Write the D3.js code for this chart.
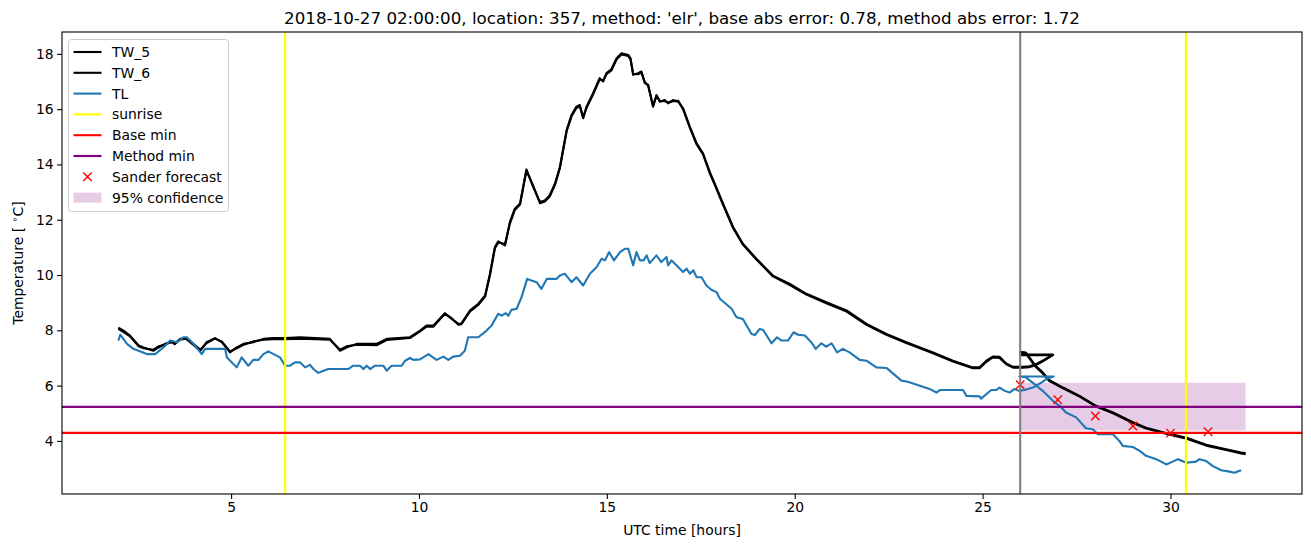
<!DOCTYPE html>
<html><head><meta charset="utf-8">
<script src="https://cdn.jsdelivr.net/npm/d3@7"></script>
<style>body{margin:0;background:#fff;} text{font-family:"DejaVu Sans",sans-serif;fill:#000;}</style>
</head><body><svg id="c" width="1311" height="547"></svg>
<script>
const titleText = "2018-10-27 02:00:00, location: 357, method: 'elr', base abs error: 0.78, method abs error: 1.72";
const twHours = [
 2.0, 2.18, 2.31, 2.54, 2.67, 2.93, 3.07, 3.24, 3.42, 3.5,
 3.64, 3.78, 3.91, 4.18, 4.35, 4.57, 4.75, 4.97, 5.15, 5.33,
 5.59, 5.86, 6.13, 6.44, 6.84, 7.63, 7.9, 8.07, 8.34, 8.87,
 9.14, 9.76, 10.03, 10.2, 10.38, 10.69, 10.87, 11.05, 11.13, 11.36,
 11.58, 11.76, 11.89, 12.02, 12.11, 12.29, 12.42, 12.55, 12.69, 12.86,
 13.04, 13.22, 13.35, 13.48, 13.62, 13.75, 13.93, 14.06, 14.19, 14.28,
 14.37, 14.46, 14.63, 14.81, 14.9, 14.99, 15.12, 15.26, 15.39, 15.57,
 15.63, 15.7, 15.83, 15.92, 16.01, 16.1, 16.23, 16.32, 16.41, 16.54,
 16.63, 16.76, 16.9, 17.03, 17.21, 17.39, 17.56, 17.74, 17.87, 18.09,
 18.36, 18.62, 18.98, 19.42, 19.87, 20.31, 20.84, 21.38, 21.91, 22.44,
 22.97, 23.68, 24.21, 24.74, 24.92, 25.1, 25.27, 25.45, 25.63, 25.81,
 25.96, 26.07, 26.25, 26.43, 26.6, 26.87, 26.05, 26.0, 26.15, 26.28,
 26.41, 26.6, 26.78, 27.14, 27.58, 28.02, 28.47, 29.0, 29.35, 29.93,
 30.41, 30.95, 31.48, 31.88, 32.0];
const tw5 = [
 8.1, 7.95, 7.81, 7.45, 7.38, 7.26, 7.38, 7.51, 7.57, 7.5,
 7.69, 7.72, 7.57, 7.26, 7.57, 7.72, 7.57, 7.2, 7.38, 7.51,
 7.57, 7.69, 7.72, 7.72, 7.75, 7.69, 7.26, 7.38, 7.51, 7.51,
 7.69, 7.75, 7.99, 8.17, 8.17, 8.62, 8.41, 8.23, 8.25, 8.72,
 8.96, 9.26, 10.05, 11.01, 11.22, 11.07, 11.92, 12.4, 12.59, 13.82,
 13.19, 12.64, 12.7, 12.89, 13.31, 13.91, 15.24, 15.79, 16.09, 16.15,
 15.67, 16.09, 16.57, 17.12, 17.0, 17.3, 17.44, 17.84, 18.02, 17.96,
 17.84, 17.24, 17.3, 17.36, 16.94, 16.88, 16.09, 16.51, 16.27, 16.33,
 16.21, 16.33, 16.27, 16.03, 15.36, 14.76, 14.4, 13.72, 13.31, 12.59,
 11.74, 11.13, 10.59, 9.98, 9.68, 9.32, 9.02, 8.72, 8.23, 7.87,
 7.57, 7.2, 6.9, 6.66, 6.66, 6.9, 7.05, 7.04, 6.8, 6.68,
 6.68, 6.68, 6.7, 6.78, 6.9, 7.12, 7.12, 7.22, 7.2, 6.96,
 6.72, 6.48, 6.2, 5.93, 5.63, 5.27, 5.03, 4.68, 4.48, 4.27,
 4.12, 3.86, 3.7, 3.58, 3.56];
const tw6 = [
 8.05, 7.9, 7.78, 7.42, 7.35, 7.3, 7.42, 7.48, 7.6, 7.53,
 7.66, 7.7, 7.6, 7.3, 7.54, 7.7, 7.6, 7.24, 7.35, 7.48,
 7.6, 7.66, 7.68, 7.68, 7.7, 7.66, 7.3, 7.42, 7.48, 7.46,
 7.65, 7.72, 7.96, 8.13, 8.13, 8.6, 8.44, 8.2, 8.22, 8.68,
 8.92, 9.22, 10.0, 10.96, 11.18, 11.12, 11.86, 12.35, 12.55, 13.78,
 13.22, 12.6, 12.66, 12.84, 13.26, 13.86, 15.2, 15.74, 16.04, 16.1,
 15.7, 16.05, 16.52, 17.08, 17.03, 17.26, 17.4, 17.8, 17.98, 17.92,
 17.8, 17.28, 17.26, 17.32, 16.98, 16.84, 16.12, 16.47, 16.3, 16.29,
 16.24, 16.29, 16.3, 15.99, 15.32, 14.72, 14.36, 13.68, 13.27, 12.55,
 11.7, 11.1, 10.56, 9.95, 9.64, 9.29, 8.98, 8.68, 8.2, 7.84,
 7.54, 7.17, 6.87, 6.63, 6.63, 6.86, 7.02, 7.0, 6.77, 6.65,
 6.65, 6.65, 6.67, 6.75, 6.88, 7.1, 7.1, 7.18, 7.16, 6.92,
 6.68, 6.44, 6.16, 5.9, 5.6, 5.24, 5.0, 4.65, 4.45, 4.24,
 4.09, 3.83, 3.67, 3.55, 3.52];
const tlHours = [
 2.0, 2.05, 2.23, 2.4, 2.76, 2.98, 3.2, 3.38, 3.56, 3.73,
 3.82, 4.0, 4.22, 4.31, 4.84, 4.89, 5.15, 5.28, 5.46, 5.59,
 5.73, 5.86, 5.99, 6.13, 6.3, 6.44, 6.57, 6.7, 6.84, 6.97,
 7.1, 7.19, 7.32, 7.46, 7.59, 7.72, 8.12, 8.25, 8.43, 8.52,
 8.61, 8.7, 8.83, 9.05, 9.14, 9.27, 9.54, 9.63, 9.76, 9.85,
 10.03, 10.25, 10.47, 10.65, 10.78, 10.91, 11.09, 11.22, 11.31, 11.58,
 11.8, 11.93, 12.11, 12.2, 12.31, 12.38, 12.46, 12.6, 12.73, 12.88,
 13.13, 13.26, 13.4, 13.66, 13.75, 13.88, 14.06, 14.19, 14.37, 14.55,
 14.73, 14.86, 14.95, 15.06, 15.19, 15.35, 15.48, 15.57, 15.7, 15.79,
 15.88, 15.98, 16.06, 16.14, 16.32, 16.45, 16.59, 16.63, 16.72, 16.85,
 17.03, 17.12, 17.21, 17.3, 17.39, 17.52, 17.65, 17.78, 17.92, 18.01,
 18.32, 18.45, 18.62, 18.85, 18.94, 19.07, 19.16, 19.38, 19.53, 19.65,
 19.82, 19.97, 20.09, 20.27, 20.44, 20.56, 20.71, 20.84, 20.98, 21.13,
 21.28, 21.46, 21.73, 21.91, 22.17, 22.44, 22.84, 23.01, 23.19, 23.59,
 23.77, 23.86, 24.48, 24.57, 24.92, 24.96, 25.23, 25.37, 25.45, 25.59,
 25.72, 25.85, 25.97, 26.12, 26.34, 26.56, 26.74, 26.89, 25.98, 26.15,
 26.33, 26.6, 26.87, 27.05, 27.22, 27.49, 27.75, 27.93, 28.07, 28.47,
 28.64, 28.73, 29.0, 29.18, 29.35, 29.62, 29.89, 30.06, 30.2, 30.42,
 30.68, 30.77, 30.95, 31.13, 31.35, 31.57, 31.7, 31.88];
const tl = [
 7.63, 7.84, 7.51, 7.33, 7.14, 7.14, 7.38, 7.63, 7.57, 7.75,
 7.75, 7.51, 7.14, 7.33, 7.33, 7.02, 6.66, 7.02, 6.72, 6.93,
 6.93, 7.14, 7.24, 7.14, 7.02, 6.72, 6.72, 6.84, 6.84, 6.66,
 6.75, 6.6, 6.46, 6.54, 6.6, 6.6, 6.6, 6.72, 6.72, 6.6,
 6.72, 6.6, 6.72, 6.72, 6.54, 6.72, 6.72, 6.9, 7.0, 6.93,
 6.95, 7.14, 6.93, 7.05, 6.93, 7.05, 7.08, 7.26, 7.75, 7.75,
 7.99, 8.17, 8.6, 8.53, 8.62, 8.53, 8.74, 8.78, 9.2, 9.86,
 9.74, 9.5, 9.86, 9.86, 9.98, 10.05, 9.74, 9.92, 9.62, 10.05,
 10.29, 10.59, 10.53, 10.83, 10.53, 10.83, 10.95, 10.95, 10.35, 10.83,
 10.53, 10.53, 10.71, 10.43, 10.71, 10.47, 10.65, 10.35, 10.53, 10.35,
 10.11, 10.23, 10.05, 10.17, 9.92, 9.92, 9.62, 9.47, 9.38, 9.14,
 8.78, 8.47, 8.41, 7.87, 7.83, 8.05, 8.01, 7.53, 7.75, 7.63,
 7.63, 7.93, 7.84, 7.81, 7.57, 7.33, 7.53, 7.41, 7.53, 7.2,
 7.33, 7.2, 6.93, 6.9, 6.66, 6.64, 6.18, 6.14, 6.06, 5.88,
 5.75, 5.84, 5.84, 5.63, 5.61, 5.53, 5.84, 5.84, 5.93, 5.81,
 5.75, 5.88, 5.81, 5.84, 5.93, 6.11, 6.27, 6.33, 6.33, 6.3,
 6.11, 5.81, 5.45, 5.27, 5.03, 4.85, 4.46, 4.42, 4.24, 4.24,
 4.0, 3.82, 3.78, 3.64, 3.46, 3.34, 3.15, 3.25, 3.34, 3.21,
 3.25, 3.34, 3.27, 3.09, 2.94, 2.89, 2.85, 2.94];
const sunriseHours = [6.44, 30.41];
const baseMin = 4.29;
const methodMin = 5.23;
const forecastStart = 26;
const sanderHours = [26, 27, 28, 29, 30, 31];
const sanderValues = [6.03, 5.49, 4.9, 4.54, 4.28, 4.33];
const confHours = [26, 32];
const confLow = [4.38, 4.38];
const confHigh = [6.1, 6.1];
const xTicks = [5, 10, 15, 20, 25, 30];
const yTicks = [4, 6, 8, 10, 12, 14, 16, 18];
const legendLabels = ["TW_5", "TW_6", "TL", "sunrise", "Base min", "Method min", "Sander forecast", "95% confidence"];

const W = 1311, H = 547;
const m = {l: 62, r: 1302, t: 32, b: 494};
const svg = d3.select("#c");
const x = d3.scaleLinear().domain([0.5, 33.5]).range([m.l, m.r]);
const y = d3.scaleLinear().domain([2.08, 18.79]).range([m.b, m.t]);

svg.append("defs").append("clipPath").attr("id", "clip")
  .append("rect").attr("x", m.l).attr("y", m.t).attr("width", m.r - m.l).attr("height", m.b - m.t);
const g = svg.append("g").attr("clip-path", "url(#clip)");

// confidence band
const conf = confHours.map((h, i) => ({h, lo: confLow[i], hi: confHigh[i]}));
g.append("path").datum(conf)
  .attr("d", d3.area().x(d => x(d.h)).y0(d => y(d.lo)).y1(d => y(d.hi)))
  .attr("fill", "purple").attr("fill-opacity", 0.2);

const line = d3.line().x(d => x(d[0])).y(d => y(d[1]));
g.append("path").datum(d3.zip(twHours, tw5)).attr("d", line)
  .attr("fill", "none").attr("stroke", "#000").attr("stroke-width", 2.1).attr("stroke-linejoin", "round");
g.append("path").datum(d3.zip(twHours, tw6)).attr("d", line)
  .attr("fill", "none").attr("stroke", "#000").attr("stroke-width", 2.1).attr("stroke-linejoin", "round");
g.append("path").datum(d3.zip(tlHours, tl)).attr("d", line)
  .attr("fill", "none").attr("stroke", "#1f77b4").attr("stroke-width", 2.1).attr("stroke-linejoin", "round");

g.selectAll("line.sun").data(sunriseHours).enter().append("line")
  .attr("x1", d => x(d)).attr("x2", d => x(d)).attr("y1", m.t).attr("y2", m.b)
  .attr("stroke", "yellow").attr("stroke-width", 2.1);
g.append("line").attr("x1", m.l).attr("x2", m.r).attr("y1", y(baseMin)).attr("y2", y(baseMin))
  .attr("stroke", "red").attr("stroke-width", 2.1);
g.append("line").attr("x1", m.l).attr("x2", m.r).attr("y1", y(methodMin)).attr("y2", y(methodMin))
  .attr("stroke", "purple").attr("stroke-width", 2.1);

const s = 4.2;
const sander = d3.zip(sanderHours, sanderValues);
g.selectAll("path.x").data(sander).enter().append("path")
  .attr("d", d => `M${x(d[0]) - s},${y(d[1]) - s}L${x(d[0]) + s},${y(d[1]) + s}M${x(d[0]) - s},${y(d[1]) + s}L${x(d[0]) + s},${y(d[1]) - s}`)
  .attr("stroke", "red").attr("stroke-width", 1.4).attr("fill", "none");

g.append("line").attr("x1", x(forecastStart)).attr("x2", x(forecastStart)).attr("y1", m.t).attr("y2", m.b)
  .attr("stroke", "gray").attr("stroke-width", 2.1);

// axes
const xAxis = svg.append("g").attr("transform", `translate(0,${m.b})`)
  .call(d3.axisBottom(x).tickValues(xTicks).tickSize(4.9).tickPadding(3.5).tickFormat(d3.format("d")));
const yAxis = svg.append("g").attr("transform", `translate(${m.l},0)`)
  .call(d3.axisLeft(y).tickValues(yTicks).tickSize(4.9).tickPadding(3.5).tickFormat(d3.format("d")));
[xAxis, yAxis].forEach(a => {
  a.select(".domain").remove();
  a.selectAll(".tick line").attr("stroke", "#000").attr("stroke-width", 1.1);
  a.selectAll(".tick text").attr("font-size", 13.9).attr("font-family", "DejaVu Sans").attr("fill", "#000");
});
svg.append("rect").attr("x", m.l).attr("y", m.t).attr("width", m.r - m.l).attr("height", m.b - m.t)
  .attr("fill", "none").attr("stroke", "#000").attr("stroke-width", 1.1);

svg.append("text").attr("x", (m.l + m.r) / 2).attr("y", 24).attr("text-anchor", "middle")
  .attr("font-size", 16.7).text(titleText);
svg.append("text").attr("x", (m.l + m.r) / 2).attr("y", 535).attr("text-anchor", "middle")
  .attr("font-size", 13.9).text("UTC time [hours]");
const yl = svg.append("text").attr("transform", `translate(23,${(m.t + m.b) / 2}) rotate(-90)`)
  .attr("text-anchor", "middle").attr("font-size", 13.9);
yl.append("tspan").text("Temperature [ ");
yl.append("tspan").attr("font-size", 9.7).attr("dy", -5).text("∘");
yl.append("tspan").attr("dy", 5).text("C]");

// legend
const lg = svg.append("g");
lg.append("rect").attr("x", 68.5).attr("y", 39.5).attr("width", 160).attr("height", 172)
  .attr("rx", 3).attr("fill", "#fff").attr("fill-opacity", 0.8).attr("stroke", "#ccc").attr("stroke-width", 1);
const rowY = i => 52 + i * 20.8;
const hx0 = 73.5, hx1 = 101.5, tx = 112;
const handles = [
  {type: "line", color: "#000"}, {type: "line", color: "#000"}, {type: "line", color: "#1f77b4"},
  {type: "line", color: "yellow"}, {type: "line", color: "red"}, {type: "line", color: "purple"},
  {type: "x", color: "red"}, {type: "patch", color: "purple"}];
handles.forEach((h, i) => {
  const yy = rowY(i);
  if (h.type === "line") {
    lg.append("line").attr("x1", hx0).attr("x2", hx1).attr("y1", yy).attr("y2", yy)
      .attr("stroke", h.color).attr("stroke-width", 2.1);
  } else if (h.type === "x") {
    const cx = (hx0 + hx1) / 2;
    lg.append("path").attr("d", `M${cx - s},${yy - s}L${cx + s},${yy + s}M${cx - s},${yy + s}L${cx + s},${yy - s}`)
      .attr("stroke", h.color).attr("stroke-width", 1.4);
  } else {
    lg.append("rect").attr("x", hx0).attr("y", yy - 5).attr("width", hx1 - hx0).attr("height", 10)
      .attr("fill", h.color).attr("fill-opacity", 0.2);
  }
  lg.append("text").attr("x", tx).attr("y", yy + 5).attr("font-size", 13.9).text(legendLabels[i]);
});
</script></body></html>
